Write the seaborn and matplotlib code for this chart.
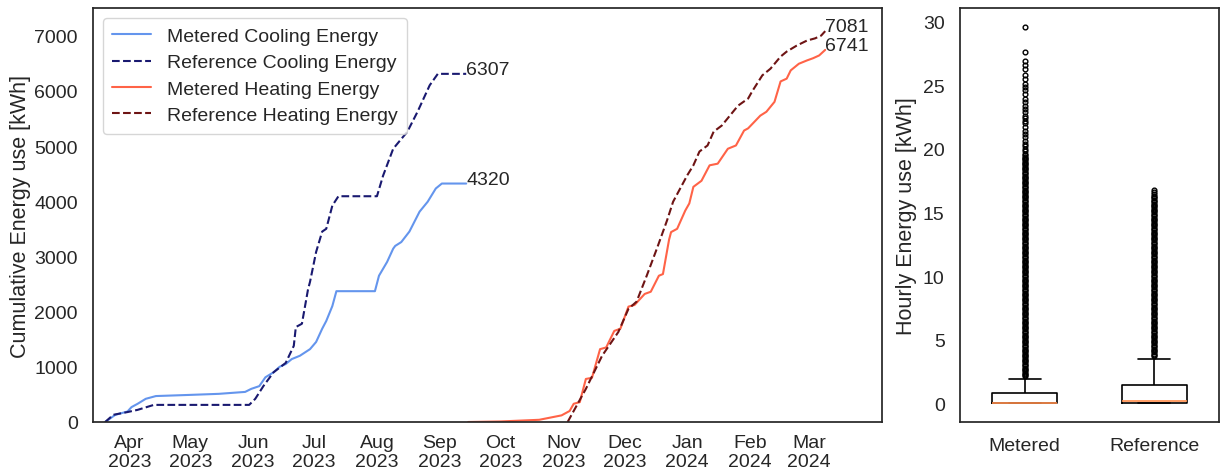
import numpy as np
import pandas as pd
import matplotlib
matplotlib.use("Agg")
import matplotlib.pyplot as plt
import matplotlib.dates as mdates
import seaborn as sns

# ---- cumulative cooling energy [kWh] ----
cool_metered_dates = ["2023-03-20", "2023-03-25", "2023-03-31", "2023-04-02", "2023-04-05",
                      "2023-04-09", "2023-04-14", "2023-04-30", "2023-05-15", "2023-05-28",
                      "2023-05-31", "2023-06-04", "2023-06-07", "2023-06-11", "2023-06-14",
                      "2023-06-17", "2023-06-20", "2023-06-24", "2023-06-29", "2023-07-02",
                      "2023-07-05", "2023-07-07", "2023-07-10", "2023-07-12", "2023-07-31",
                      "2023-08-02", "2023-08-06", "2023-08-09", "2023-08-10", "2023-08-13",
                      "2023-08-17", "2023-08-22", "2023-08-26", "2023-08-30", "2023-09-02",
                      "2023-09-14"]
cool_metered = [0, 130, 190, 270, 330, 420, 470, 490, 510, 545,
                600, 650, 810, 900, 1000, 1050, 1140, 1200, 1320, 1450,
                1690, 1830, 2100, 2370, 2370, 2650, 2900, 3140, 3190, 3260,
                3450, 3810, 3990, 4230, 4320, 4320]

cool_ref_dates = ["2023-03-20", "2023-03-24", "2023-03-31", "2023-04-05", "2023-04-13",
                  "2023-05-30", "2023-06-02", "2023-06-06", "2023-06-11", "2023-06-17",
                  "2023-06-21", "2023-06-22", "2023-06-25", "2023-06-28", "2023-06-29",
                  "2023-07-02", "2023-07-05", "2023-07-07", "2023-07-10", "2023-07-13",
                  "2023-08-01", "2023-08-04", "2023-08-09", "2023-08-16", "2023-08-21",
                  "2023-08-27", "2023-08-31", "2023-09-14"]
cool_ref = [0, 130, 180, 220, 310, 310, 420, 650, 900, 1070,
            1380, 1720, 1780, 2400, 2540, 3080, 3450, 3500, 3920, 4090,
            4090, 4460, 4950, 5260, 5620, 6100, 6307, 6307]

# ---- cumulative heating energy [kWh] ----
heat_metered_dates = ["2023-09-15", "2023-10-01", "2023-10-20", "2023-10-31", "2023-11-04",
                      "2023-11-06", "2023-11-09", "2023-11-12", "2023-11-15", "2023-11-19",
                      "2023-11-22", "2023-11-26", "2023-11-29", "2023-12-03", "2023-12-06",
                      "2023-12-11", "2023-12-14", "2023-12-18", "2023-12-20", "2023-12-23",
                      "2023-12-24", "2023-12-27", "2023-12-31", "2024-01-02", "2024-01-04",
                      "2024-01-08", "2024-01-12", "2024-01-16", "2024-01-21", "2024-01-25",
                      "2024-01-29", "2024-01-31", "2024-02-06", "2024-02-09", "2024-02-13",
                      "2024-02-16", "2024-02-19", "2024-02-21", "2024-02-25", "2024-02-29",
                      "2024-03-03", "2024-03-06", "2024-03-09"]
heat_metered = [0, 10, 40, 120, 200, 330, 360, 780, 800, 1320,
                1350, 1650, 1690, 2090, 2120, 2320, 2360, 2650, 2680, 3300,
                3440, 3500, 3830, 3960, 4260, 4370, 4650, 4680, 4950, 5010,
                5280, 5320, 5550, 5620, 5800, 6170, 6220, 6370, 6490, 6550,
                6590, 6640, 6741]

heat_ref_dates = ["2023-11-03", "2023-11-12", "2023-11-20", "2023-11-28", "2023-12-03",
                  "2023-12-07", "2023-12-12", "2023-12-17", "2023-12-22", "2023-12-25",
                  "2024-01-01", "2024-01-04", "2024-01-07", "2024-01-11", "2024-01-14",
                  "2024-01-18", "2024-01-22", "2024-01-26", "2024-01-31", "2024-02-02",
                  "2024-02-07", "2024-02-11", "2024-02-16", "2024-02-19", "2024-02-24",
                  "2024-02-29", "2024-03-04", "2024-03-07", "2024-03-09"]
heat_ref = [0, 600, 1200, 1630, 2050, 2180, 2650, 3140, 3650, 3990,
            4470, 4650, 4900, 5010, 5260, 5370, 5550, 5730, 5860, 5990,
            6280, 6400, 6620, 6710, 6820, 6910, 6950, 7000, 7081]

month_ticks = ["2023-04-01", "2023-05-01", "2023-06-01", "2023-07-01", "2023-08-01",
               "2023-09-01", "2023-10-01", "2023-11-01", "2023-12-01", "2024-01-01",
               "2024-02-01", "2024-03-01"]

# ---- hourly energy use [kWh]: value levels and hour counts of the bulk, plus high-use hours ----
box_groups = ["Metered", "Reference"]
metered_levels = [0.0, 0.3, 0.8, 1.2, 1.9]
metered_counts = [700, 250, 100, 60, 40]
metered_high = [
    2.1, 2.2, 2.3, 2.4, 2.5, 2.6, 2.7, 2.8, 2.9, 3.0,
    3.1, 3.2, 3.3, 3.4, 3.5, 3.6, 3.7, 3.8, 3.9, 4.0,
    4.1, 4.2, 4.3, 4.4, 4.5, 4.6, 4.7, 4.8, 4.9, 5.0,
    5.1, 5.2, 5.3, 5.4, 5.5, 5.6, 5.7, 5.8, 5.9, 6.0,
    6.1, 6.2, 6.3, 6.4, 6.5, 6.6, 6.7, 6.8, 6.9, 7.0,
    7.1, 7.2, 7.3, 7.4, 7.5, 7.6, 7.7, 7.8, 7.9, 8.0,
    8.1, 8.2, 8.3, 8.4, 8.5, 8.6, 8.7, 8.8, 8.9, 9.0,
    9.1, 9.2, 9.3, 9.4, 9.5, 9.6, 9.7, 9.8, 9.9, 10.0,
    10.1, 10.2, 10.3, 10.4, 10.5, 10.6, 10.7, 10.8, 10.9, 11.0,
    11.1, 11.2, 11.3, 11.4, 11.5, 11.6, 11.7, 11.8, 11.9, 12.0,
    12.1, 12.2, 12.3, 12.4, 12.5, 12.6, 12.7, 12.8, 12.9, 13.0,
    13.1, 13.2, 13.3, 13.4, 13.5, 13.6, 13.7, 13.8, 13.9, 14.0,
    14.1, 14.2, 14.3, 14.4, 14.5, 14.6, 14.7, 14.8, 14.9, 15.0,
    15.1, 15.2, 15.3, 15.4, 15.5, 15.6, 15.7, 15.8, 15.9, 16.0,
    16.1, 16.2, 16.3, 16.4, 16.5, 16.6, 16.7, 16.8, 16.9, 17.0,
    17.1, 17.2, 17.3, 17.4, 17.5, 17.6, 17.7, 17.8, 17.9, 18.0,
    18.1, 18.2, 18.3, 18.4, 18.5, 18.6, 18.7, 18.8, 18.9, 19.0,
    19.1, 19.2, 19.3, 19.4, 19.5, 19.6,
    19.8, 20.0, 20.2, 20.4, 20.6, 20.9, 21.2, 21.4, 21.7, 22.0, 22.2, 22.4,
    22.6, 22.9, 23.1, 23.4, 23.7, 23.9, 24.3, 24.6, 24.9, 25.1, 25.5, 25.8,
    26.3, 26.6, 26.9, 27.6, 29.6]
reference_levels = [0.0, 0.15, 0.7, 1.45, 2.4, 3.45]
reference_counts = [400, 300, 200, 200, 100, 40]
reference_high = [
    3.7, 3.8, 3.9, 4.0,
    4.1, 4.2, 4.3, 4.4, 4.5, 4.6, 4.7, 4.8, 4.9, 5.0,
    5.1, 5.2, 5.3, 5.4, 5.5, 5.6, 5.7, 5.8, 5.9, 6.0,
    6.1, 6.2, 6.3, 6.4, 6.5, 6.6, 6.7, 6.8, 6.9, 7.0,
    7.1, 7.2, 7.3, 7.4, 7.5, 7.6, 7.7, 7.8, 7.9, 8.0,
    8.1, 8.2, 8.3, 8.4, 8.5, 8.6, 8.7, 8.8, 8.9, 9.0,
    9.1, 9.2, 9.3, 9.4, 9.5, 9.6, 9.7, 9.8, 9.9, 10.0,
    10.1, 10.2, 10.3, 10.4, 10.5, 10.6, 10.7, 10.8, 10.9, 11.0,
    11.1, 11.2, 11.3, 11.4, 11.5, 11.6, 11.7, 11.8, 11.9, 12.0,
    12.1, 12.2, 12.3, 12.4, 12.5, 12.6, 12.7, 12.8, 12.9, 13.0,
    13.1, 13.2, 13.3, 13.4, 13.5, 13.6, 13.7, 13.8, 13.9, 14.0,
    14.1, 14.2, 14.3, 14.4, 14.5, 14.6, 14.7, 14.8, 14.9, 15.0,
    15.1, 15.2, 15.3, 15.4, 15.5, 15.6, 15.7, 15.8, 15.9, 16.0,
    16.1, 16.2, 16.3, 16.45, 16.6, 16.75]

sns.set_theme(style="white")
plt.rcParams["font.family"] = ["Liberation Sans", "DejaVu Sans"]

W, H = 1221, 477
fig = plt.figure(figsize=(W / 100, H / 100), dpi=100)
ax = fig.add_axes([93 / W, 1 - 423 / H, (882 - 93) / W, (423 - 9) / H])
axb = fig.add_axes([960 / W, 1 - 423 / H, (1219 - 960) / W, (423 - 9) / H])

series = [
    (cool_metered_dates, cool_metered, "cornflowerblue", "-", "Metered Cooling Energy"),
    (cool_ref_dates, cool_ref, "midnightblue", "--", "Reference Cooling Energy"),
    (heat_metered_dates, heat_metered, "tomato", "-", "Metered Heating Energy"),
    (heat_ref_dates, heat_ref, "#6e1414", "--", "Reference Heating Energy"),
]
for dates, vals, col, ls, lab in series:
    d = pd.to_datetime(dates)
    sns.lineplot(x=d, y=vals, ax=ax, color=col, linestyle=ls, linewidth=1.5, label=lab)
    ax.text(d[-1], vals[-1], f"{vals[-1]:.0f}", fontsize=14, color=".15")

ax.set_xlim(pd.Timestamp("2023-03-14"), pd.Timestamp("2024-04-06"))
ax.set_ylim(0, 7500)
ax.set_xticks(pd.to_datetime(month_ticks))
ax.xaxis.set_major_formatter(mdates.DateFormatter("%b\n%Y"))
ax.set_yticks(range(0, 7001, 1000))
ax.tick_params(labelsize=14)
ax.tick_params(axis="x", pad=2.5)
ax.tick_params(axis="y", pad=5)
ax.set_ylabel("Cumulative Energy use [kWh]", fontsize=15.5, labelpad=2)
ax.set_xlabel("")
ax.legend(loc="upper left", fontsize=14, borderpad=0.5, labelspacing=0.45)

metered_vals = list(np.repeat(metered_levels, metered_counts)) + metered_high
reference_vals = list(np.repeat(reference_levels, reference_counts)) + reference_high
box_df = pd.DataFrame({
    "Source": [box_groups[0]] * len(metered_vals) + [box_groups[1]] * len(reference_vals),
    "Energy": metered_vals + reference_vals,
})
sns.boxplot(data=box_df, x="Source", y="Energy", ax=axb, width=0.5, fill=False,
            color="black", linewidth=1.2, fliersize=3.4,
            medianprops=dict(color="#ff8c4a"),
            flierprops=dict(marker="o", markerfacecolor="none",
                            markeredgecolor="black", markeredgewidth=1.0))
axb.set_xlabel("")
axb.set_ylabel("Hourly Energy use [kWh]", fontsize=15.5, labelpad=4)
axb.set_yticks(range(0, 31, 5))
axb.tick_params(labelsize=14)
axb.tick_params(axis="x", pad=5)
axb.tick_params(axis="y", pad=5)

fig.savefig("out.png", dpi=100)
